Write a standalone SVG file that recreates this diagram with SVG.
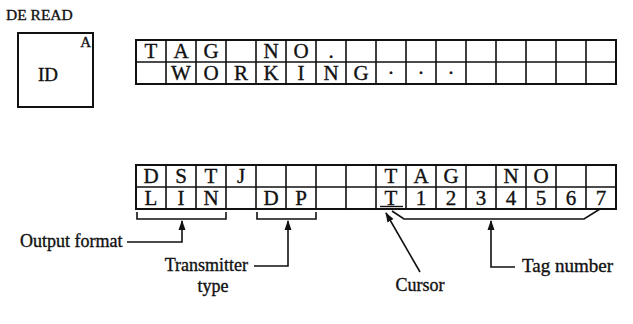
<svg xmlns="http://www.w3.org/2000/svg" width="633" height="324" viewBox="0 0 633 324">
<style>
text{font-family:"Liberation Serif","Times New Roman",serif;fill:#111;stroke:#111;stroke-width:0.35}
.c{font-size:21px;text-anchor:middle}
.l{font-size:18px}
.g{fill:none;stroke:#111;stroke-width:1.6}
.o{fill:none;stroke:#111;stroke-width:2}
.w{fill:none;stroke:#111;stroke-width:1.6}
</style>
<defs>
<marker id="ah" viewBox="0 0 10 10" refX="9" refY="5" markerWidth="10" markerHeight="10" markerUnits="userSpaceOnUse" orient="auto">
<path d="M0,1.5 L10,5 L0,8.5 Z" fill="#111"/>
</marker>
</defs>
<rect width="633" height="324" fill="#fff"/>
<g id="panel">
<text x="6" y="20" style="font-size:15.5px">DE READ</text>
<rect x="18" y="33" width="75" height="74" class="o"/>
<text x="91" y="47" style="font-size:15px" text-anchor="end">A</text>
<text x="38" y="81" style="font-size:19px">ID</text>
</g>
<g id="display-top">
<rect x="136" y="40" width="480" height="44" class="o"/>
<path class="g" d="M136,62H616M166,40V84M196,40V84M226,40V84M256,40V84M286,40V84M316,40V84M346,40V84M376,40V84M406,40V84M436,40V84M466,40V84M496,40V84M526,40V84M556,40V84M586,40V84"/>
<text class="c" y="58"><tspan x="151">T</tspan><tspan x="181">A</tspan><tspan x="211">G</tspan><tspan x="271">N</tspan><tspan x="301">O</tspan><tspan x="331">.</tspan></text>
<text class="c" y="80"><tspan x="181">W</tspan><tspan x="211">O</tspan><tspan x="241">R</tspan><tspan x="271">K</tspan><tspan x="301">I</tspan><tspan x="331">N</tspan><tspan x="361">G</tspan><tspan x="391">·</tspan><tspan x="421">·</tspan><tspan x="451">·</tspan></text>
</g>
<g id="display-bottom">
<rect x="136" y="165" width="480" height="44" class="o"/>
<path class="g" d="M136,187H616M166,165V209M196,165V209M226,165V209M256,165V209M286,165V209M316,165V209M346,165V209M376,165V209M406,165V209M436,165V209M466,165V209M496,165V209M526,165V209M556,165V209M586,165V209"/>
<text class="c" y="183"><tspan x="151">D</tspan><tspan x="181">S</tspan><tspan x="211">T</tspan><tspan x="241">J</tspan><tspan x="391">T</tspan><tspan x="421">A</tspan><tspan x="451">G</tspan><tspan x="511">N</tspan><tspan x="541">O</tspan></text>
<text class="c" y="205"><tspan x="151">L</tspan><tspan x="181">I</tspan><tspan x="211">N</tspan><tspan x="271">D</tspan><tspan x="301">P</tspan><tspan x="391">T</tspan><tspan x="421">1</tspan><tspan x="451">2</tspan><tspan x="481">3</tspan><tspan x="511">4</tspan><tspan x="541">5</tspan><tspan x="571">6</tspan><tspan x="601">7</tspan></text>
<line x1="380" y1="206.5" x2="403" y2="206.5" stroke="#111" stroke-width="1.4"/>
</g>
<g id="label-output">
<text class="l" x="20" y="247">Output format</text>
</g>
<g id="label-transmitter">
<text class="l" x="248" y="271" text-anchor="end">Transmitter</text>
<text class="l" x="213" y="292" text-anchor="middle">type</text>
</g>
<g id="label-cursor">
<text class="l" x="420" y="291" text-anchor="middle">Cursor</text>
</g>
<g id="label-tag">
<text class="l" x="522" y="272" style="font-size:19px">Tag number</text>
</g>
<g id="connectors">
<path class="w" d="M127,242H182V221" marker-end="url(#ah)"/>
<path class="w" d="M137,212V219H226V212"/>
<path class="w" d="M257,212V219H316V212"/>
<path class="w" d="M392,211L404,219H584L600,209"/>
<path class="w" d="M254,266H288V221" marker-end="url(#ah)"/>
<path class="w" d="M420,272L386,213" marker-end="url(#ah)"/>
<path class="w" d="M515,267H491V221" marker-end="url(#ah)"/>
</g>
</svg>
